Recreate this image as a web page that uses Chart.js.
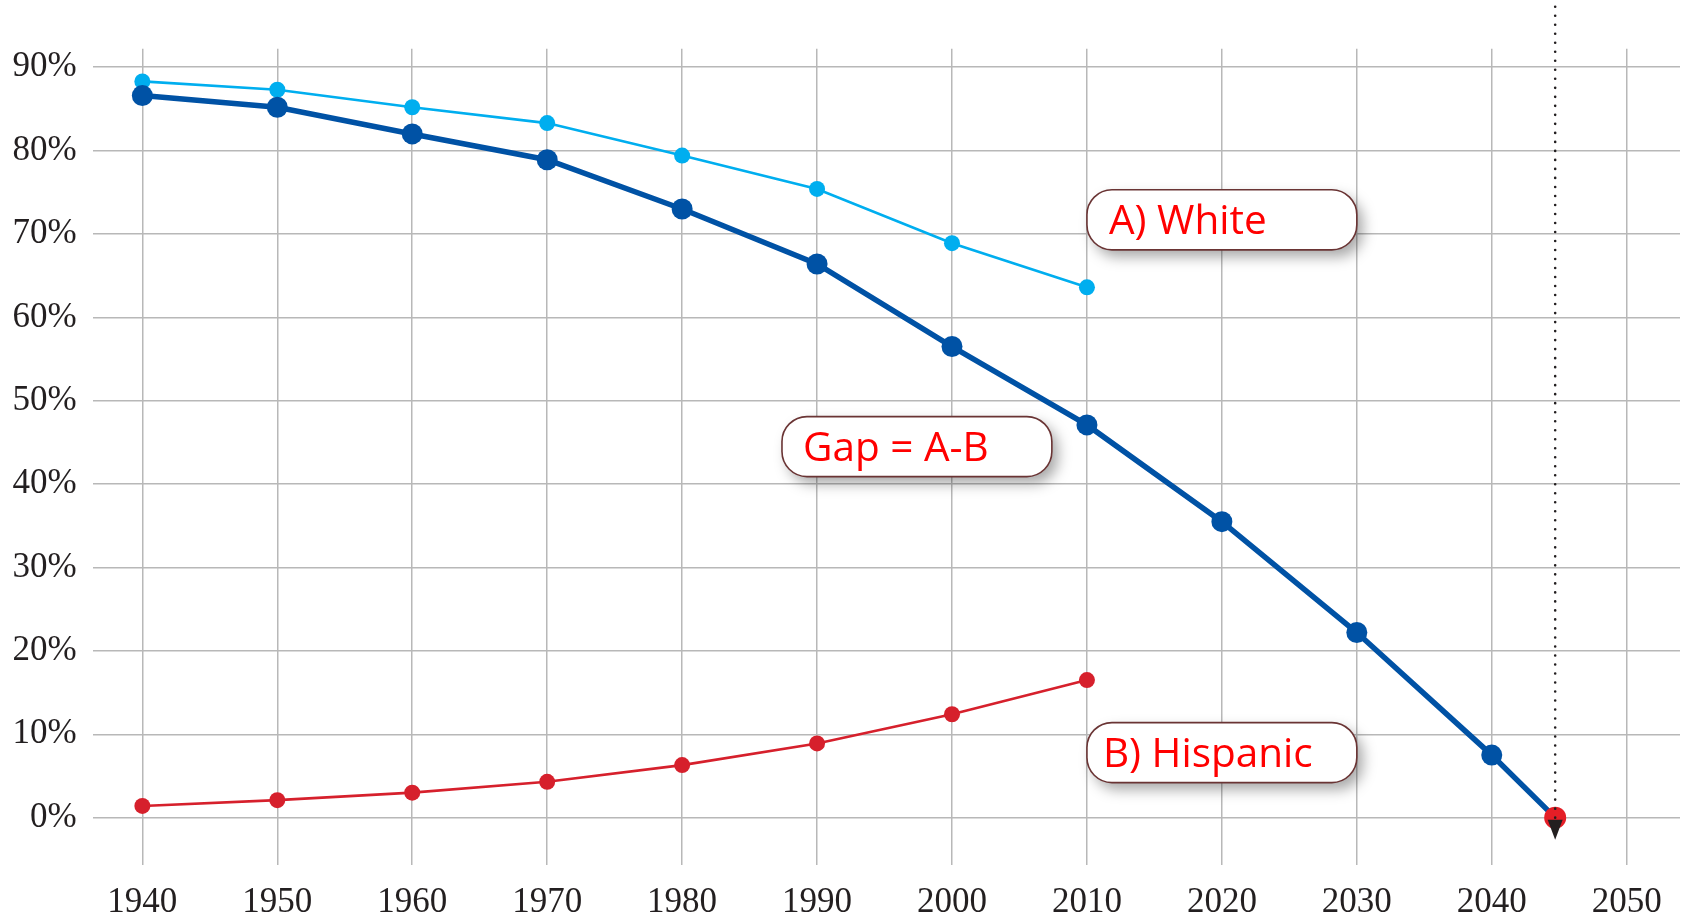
<!DOCTYPE html>
<html>
<head>
<meta charset="utf-8">
<script src="https://cdn.jsdelivr.net/npm/chart.js@4"></script>
<style>
html,body{margin:0;padding:0;background:#fff;}
#wrap{width:1685px;height:916px;position:relative;}
</style>
</head>
<body>
<div id="wrap"><canvas id="c" width="1685" height="916"></canvas></div>
<script>
// ---- data ----
const years = [1940, 1950, 1960, 1970, 1980, 1990, 2000, 2010];
const whiteShare = [88.3, 87.3, 85.2, 83.3, 79.4, 75.4, 68.9, 63.6];
const hispanicShare = [1.4, 2.1, 3.0, 4.3, 6.3, 8.9, 12.4, 16.5];
const gapYears = [1940, 1950, 1960, 1970, 1980, 1990, 2000, 2010, 2020, 2030, 2040, 2044.7];
const gapValues = [86.6, 85.2, 82.0, 78.9, 73.0, 66.4, 56.5, 47.1, 35.5, 22.2, 7.5, 0];
const xTicks = [1940, 1950, 1960, 1970, 1980, 1990, 2000, 2010, 2020, 2030, 2040, 2050];
const yTicks = [0, 10, 20, 30, 40, 50, 60, 70, 80, 90];
const labelTexts = ['A) White', 'Gap = A-B', 'B) Hispanic'];
const crossoverYear = 2044.7;

// ---- annotation placement (data coordinates) ----
const boxes = [
  {text: labelTexts[0], x1: 2010, x2: 2030, y1: 75.3, y2: 68.1, pad: 22},
  {text: labelTexts[1], x1: 1987.4, x2: 2007.4, y1: 48.1, y2: 40.9, pad: 21},
  {text: labelTexts[2], x1: 2010, x2: 2030, y1: 11.4, y2: 4.2, pad: 16}
];

const toXY = (xs, ys) => xs.map((x, i) => ({x: x, y: ys[i]}));

const tickFont = {family: '"Liberation Serif", "DejaVu Serif", serif', size: 35};
const gridColor = '#b8b8b8';

const annotPlugin = {
  id: 'annot',
  afterDatasetsDraw(chart) {
    const ctx = chart.ctx;
    const xs = chart.scales.x, ys = chart.scales.y;
    const px = xs.getPixelForValue(crossoverYear);
    const py = ys.getPixelForValue(0);
    ctx.save();
    ctx.strokeStyle = '#231f20';
    ctx.lineWidth = 2.6;
    ctx.lineCap = 'round';
    ctx.setLineDash([0.01, 9]);
    ctx.beginPath();
    ctx.moveTo(px, py);
    ctx.lineTo(px, 0);
    ctx.stroke();
    ctx.restore();
    ctx.save();
    ctx.fillStyle = '#231f20';
    ctx.beginPath();
    ctx.moveTo(px - 7.5, py + 2);
    ctx.lineTo(px + 7.5, py + 2);
    ctx.lineTo(px, py + 22);
    ctx.closePath();
    ctx.fill();
    ctx.restore();
  },
  afterDraw(chart) {
    const ctx = chart.ctx;
    const xs = chart.scales.x, ys = chart.scales.y;
    boxes.forEach(b => {
      const l = xs.getPixelForValue(b.x1), r = xs.getPixelForValue(b.x2);
      const t = ys.getPixelForValue(b.y1), btm = ys.getPixelForValue(b.y2);
      const rad = 25;
      const path = () => {
        ctx.beginPath();
        ctx.moveTo(l + rad, t);
        ctx.lineTo(r - rad, t);
        ctx.arcTo(r, t, r, t + rad, rad);
        ctx.lineTo(r, btm - rad);
        ctx.arcTo(r, btm, r - rad, btm, rad);
        ctx.lineTo(l + rad, btm);
        ctx.arcTo(l, btm, l, btm - rad, rad);
        ctx.lineTo(l, t + rad);
        ctx.arcTo(l, t, l + rad, t, rad);
        ctx.closePath();
      };
      ctx.save();
      ctx.shadowColor = 'rgba(0,0,0,0.35)';
      ctx.shadowBlur = 14;
      ctx.shadowOffsetX = 6;
      ctx.shadowOffsetY = 7;
      ctx.fillStyle = '#ffffff';
      path();
      ctx.fill();
      ctx.restore();
      ctx.save();
      ctx.strokeStyle = '#6a3434';
      ctx.lineWidth = 1.6;
      path();
      ctx.stroke();
      ctx.fillStyle = '#ff0000';
      ctx.font = '40.5px "Open Sans", "Noto Sans", sans-serif';
      ctx.textAlign = 'left';
      ctx.textBaseline = 'alphabetic';
      ctx.fillText(b.text, l + b.pad, (t + btm) / 2 + 14.5);
      ctx.restore();
    });
  }
};

new Chart(document.getElementById('c'), {
  type: 'line',
  data: {
    datasets: [
      {
        label: 'Gap = A-B',
        data: toXY(gapYears, gapValues),
        borderColor: '#0052a5',
        backgroundColor: '#0052a5',
        borderWidth: 5.5,
        pointRadius: gapYears.map(y => y === crossoverYear ? 11 : 10.5),
        pointBackgroundColor: gapYears.map(y => y === crossoverYear ? '#e41e26' : '#0052a5'),
        pointBorderWidth: 0,
        tension: 0
      },
      {
        label: 'A) White',
        data: toXY(years, whiteShare),
        borderColor: '#00aeef',
        backgroundColor: '#00aeef',
        borderWidth: 2.6,
        pointRadius: 8,
        pointBorderWidth: 0,
        tension: 0
      },
      {
        label: 'B) Hispanic',
        data: toXY(years, hispanicShare),
        borderColor: '#d6202c',
        backgroundColor: '#d6202c',
        borderWidth: 2.6,
        pointRadius: 8,
        pointBorderWidth: 0,
        tension: 0
      }
    ]
  },
  options: {
    responsive: false,
    animation: false,
    devicePixelRatio: 1,
    layout: {autoPadding: false, padding: {top: 48.8, left: 0, right: 5, bottom: 0}},
    plugins: {legend: {display: false}, tooltip: {enabled: false}, title: {display: false}},
    scales: {
      x: {
        type: 'linear',
        min: 1936.32,
        max: 2053.95,
        afterBuildTicks: a => { a.ticks = xTicks.map(v => ({value: v})); },
        afterFit: s => { s.height = 51; s.paddingLeft = 0; s.paddingRight = 0; },
        ticks: {
          callback: v => String(v),
          font: tickFont,
          color: '#231f20',
          padding: 17,
          maxRotation: 0,
          autoSkip: false
        },
        grid: {color: gridColor, lineWidth: 1.5, drawTicks: false},
        border: {display: false}
      },
      y: {
        min: -5.68,
        max: 92.21,
        afterBuildTicks: a => { a.ticks = yTicks.map(v => ({value: v})); },
        afterFit: s => { s.width = 92.7; s.paddingTop = 0; s.paddingBottom = 0; },
        ticks: {
          callback: v => v + '%',
          font: tickFont,
          color: '#231f20',
          padding: 16
        },
        grid: {color: gridColor, lineWidth: 1.5, drawTicks: false},
        border: {display: false}
      }
    }
  },
  plugins: [annotPlugin]
});
</script>
</body>
</html>
